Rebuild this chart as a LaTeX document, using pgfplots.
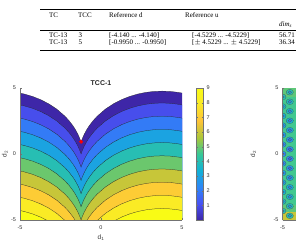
\documentclass[border=0pt]{standalone}
\usepackage{fontspec}
\setmainfont{Liberation Serif}
\newfontfamily\hv{Liberation Sans}
\usepackage{pgfplots}
\usepackage{pgfplotstable}
\pgfplotsset{compat=1.18}

% parula-like colormap and the fill colours of the contour bands (levels 0..9)
\pgfplotsset{colormap={parula}{rgb=(0.2422,0.1504,0.6603) rgb=(0.2810,0.3228,0.9579)
  rgb=(0.1786,0.5289,0.9682) rgb=(0.0689,0.6948,0.8394) rgb=(0.2161,0.7843,0.5923)
  rgb=(0.6720,0.7793,0.2227) rgb=(0.9970,0.7659,0.2199) rgb=(0.9805,0.9130,0.1549)
  rgb=(0.9769,0.9839,0.0805)}}
\definecolor{lv0}{rgb}{0.242,0.150,0.660}
\definecolor{lv1}{rgb}{0.277,0.304,0.925}
\definecolor{lv2}{rgb}{0.201,0.483,0.966}
\definecolor{lv3}{rgb}{0.105,0.640,0.882}
\definecolor{lv4}{rgb}{0.151,0.745,0.702}
\definecolor{lv5}{rgb}{0.419,0.782,0.428}
\definecolor{lv6}{rgb}{0.780,0.775,0.222}
\definecolor{lv7}{rgb}{0.993,0.799,0.206}
\definecolor{lv8}{rgb}{0.980,0.921,0.147}
\definecolor{lv9}{rgb}{0.977,0.984,0.081}
\definecolor{bgteal}{rgb}{0.256,0.784,0.560}
\definecolor{bggreen}{rgb}{0.370,0.782,0.470}
\definecolor{bgolive}{rgb}{0.780,0.775,0.222}

% contour lines of TCC-1: column ck is the level-k line (c0 = feasibility boundary)
\pgfplotstableread{
x c0 c1 c2 c3 c4 c5 c6 c7 c8 c9
-5.20 -9 -9 -9 -9 -9 -9 -9 -9 -9 -9
-5.20 4.617 3.717 2.717 1.717 0.717 -0.283 -1.283 -2.283 -3.283 -4.283
-5.00 4.617 3.717 2.717 1.717 0.717 -0.283 -1.283 -2.283 -3.283 -4.283
-4.73 4.543 3.643 2.643 1.643 0.643 -0.357 -1.357 -2.357 -3.357 -4.357
-4.23 4.362 3.462 2.462 1.462 0.462 -0.538 -1.538 -2.538 -3.538 -4.538
-3.73 4.120 3.220 2.220 1.220 0.220 -0.780 -1.780 -2.780 -3.780 -4.780
-3.23 3.805 2.905 1.905 0.905 -0.095 -1.095 -2.095 -3.095 -4.095 -5.095
-2.73 3.399 2.499 1.499 0.499 -0.501 -1.501 -2.501 -3.501 -4.501 -5.501
-2.23 2.868 1.968 0.968 -0.032 -1.032 -2.032 -3.032 -4.032 -5.032 -6.032
-1.98 2.536 1.636 0.636 -0.364 -1.364 -2.364 -3.364 -4.364 -5.364 -6.364
-1.73 2.136 1.236 0.236 -0.764 -1.764 -2.764 -3.764 -4.764 -5.764 -6.764
-1.58 1.849 0.949 -0.051 -1.051 -2.051 -3.051 -4.051 -5.051 -6.051 -7.051
-1.43 1.508 0.608 -0.392 -1.392 -2.392 -3.392 -4.392 -5.392 -6.392 -7.392
-1.33 1.234 0.334 -0.666 -1.666 -2.666 -3.666 -4.666 -5.666 -6.666 -7.666
-1.28 1.076 0.176 -0.824 -1.824 -2.824 -3.824 -4.824 -5.824 -6.824 -7.824
-1.23 0.896 -0.004 -1.004 -2.004 -3.004 -4.004 -5.004 -6.004 -7.004 -8.004
-1.18 1.076 0.176 -0.824 -1.824 -2.824 -3.824 -4.824 -5.824 -6.824 -7.824
-1.13 1.234 0.334 -0.666 -1.666 -2.666 -3.666 -4.666 -5.666 -6.666 -7.666
-1.03 1.508 0.608 -0.392 -1.392 -2.392 -3.392 -4.392 -5.392 -6.392 -7.392
-0.88 1.849 0.949 -0.051 -1.051 -2.051 -3.051 -4.051 -5.051 -6.051 -7.051
-0.73 2.136 1.236 0.236 -0.764 -1.764 -2.764 -3.764 -4.764 -5.764 -6.764
-0.48 2.536 1.636 0.636 -0.364 -1.364 -2.364 -3.364 -4.364 -5.364 -6.364
-0.23 2.868 1.968 0.968 -0.032 -1.032 -2.032 -3.032 -4.032 -5.032 -6.032
0.27 3.399 2.499 1.499 0.499 -0.501 -1.501 -2.501 -3.501 -4.501 -5.501
0.77 3.805 2.905 1.905 0.905 -0.095 -1.095 -2.095 -3.095 -4.095 -5.095
1.27 4.120 3.220 2.220 1.220 0.220 -0.780 -1.780 -2.780 -3.780 -4.780
1.77 4.362 3.462 2.462 1.462 0.462 -0.538 -1.538 -2.538 -3.538 -4.538
2.27 4.543 3.643 2.643 1.643 0.643 -0.357 -1.357 -2.357 -3.357 -4.357
2.77 4.668 3.768 2.768 1.768 0.768 -0.232 -1.232 -2.232 -3.232 -4.232
3.27 4.741 3.841 2.841 1.841 0.841 -0.159 -1.159 -2.159 -3.159 -4.159
3.77 4.765 3.865 2.865 1.865 0.865 -0.135 -1.135 -2.135 -3.135 -4.135
4.27 4.741 3.841 2.841 1.841 0.841 -0.159 -1.159 -2.159 -3.159 -4.159
4.77 4.668 3.768 2.768 1.768 0.768 -0.232 -1.232 -2.232 -3.232 -4.232
5.00 4.617 3.717 2.717 1.717 0.717 -0.283 -1.283 -2.283 -3.283 -4.283
5.20 4.617 3.717 2.717 1.717 0.717 -0.283 -1.283 -2.283 -3.283 -4.283
5.20 -9 -9 -9 -9 -9 -9 -9 -9 -9 -9
}\contours

\pgfplotsset{
  mlax/.style={scale only axis, width=162bp, height=132bp,
    xmin=-5, xmax=5, ymin=-5, ymax=5,
    xtick={-5,0,5}, ytick={-5,0,5}, xticklabels={-5,0,5}, yticklabels={-5,0,5},
    tick label style={font=\hv\fontsize{5.5}{6}\selectfont, text=black!80},
    xticklabel style={yshift=-2.5bp}, yticklabel style={xshift=-0.5bp},
    axis x line*=bottom, axis y line*=left,
    axis line style={-, black!55, line width=0.3bp},
    tick style={black!55, line width=0.3bp},
    tick align=inside, major tick length=1.6bp,
    axis on top, clip marker paths=true,
    label style={font=\hv\fontsize{6.5}{7}\selectfont, text=black!80}},
  band/.style={fill=#1, draw=black!85, line width=0.25bp}
}

\begin{document}
\begin{tikzpicture}[x=1bp,y=1bp]
\clip (0,0) rectangle (296,251);

% results table
\begin{scope}[every node/.style={anchor=base west, inner sep=0pt, font=\fontsize{7}{7.5}\selectfont}]
  \draw[line width=0.9bp] (40,242) -- (300,242);
  \draw[line width=0.5bp] (40,221) -- (300,221);
  \draw[line width=1.0bp] (40,200.5) -- (300,200.5);
  \node at (49,233.7) {TC};
  \node at (78,233.7) {TCC};
  \node at (109,233.7) {Reference d};
  \node at (185,233.7) {Reference u};
  \node at (279,224.5) {\textit{dim}\textsubscript{\textit{s}}};
  \node at (49,213.7) {TC-13};
  \node at (78.5,213.7) {3};
  \node at (109,213.7) {[-4.140 ... -4.140]};
  \node at (192,213.7) {[-4.5229 ... -4.5229]};
  \node at (279,213.7) {56.71};
  \node at (49,207) {TC-13};
  \node at (78.5,207) {5};
  \node at (109,207) {[-0.9950 ... -0.9950]};
  \node at (192,207) {[$\pm$ 4.5229 ... $\pm$ 4.5229]};
  \node at (279,207) {36.34};
\end{scope}

% TCC-1 filled contours
\begin{axis}[mlax, at={(20bp,31bp)}, anchor=south west,
    title={\hv\bfseries TCC-1},
    title style={font=\fontsize{7}{8}\selectfont, text=black!85, yshift=-7.5bp},
    xlabel={d\textsubscript{1}}, ylabel={d\textsubscript{2}},
    xlabel style={at={(axis description cs:0.5,-0.135)}, anchor=center},
    ylabel style={at={(axis description cs:-0.093,0.5)}, anchor=center},
    colormap name=parula, point meta min=0, point meta max=9, colorbar,
    colorbar style={at={(parent axis.north east)}, anchor=north west, xshift=6bp,
      width=7bp, ytick={1,2,...,9},
      yticklabel style={font=\hv\fontsize{5.5}{6}\selectfont, text=black!80, xshift=-0.5bp},
      /pgf/number format/assume math mode=true,
      tick align=inside, major tick length=1.5bp,
      axis line style={black!55, line width=0.3bp}, tick style={black!55, line width=0.3bp}}]
  \addplot[band=lv0] table[x=x, y=c0] {\contours};
  \addplot[band=lv1] table[x=x, y=c1] {\contours};
  \addplot[band=lv2] table[x=x, y=c2] {\contours};
  \addplot[band=lv3] table[x=x, y=c3] {\contours};
  \addplot[band=lv4] table[x=x, y=c4] {\contours};
  \addplot[band=lv5] table[x=x, y=c5] {\contours};
  \addplot[band=lv6] table[x=x, y=c6] {\contours};
  \addplot[band=lv7] table[x=x, y=c7] {\contours};
  \addplot[band=lv8] table[x=x, y=c8] {\contours};
  \addplot[band=lv9] table[x=x, y=c9] {\contours};
  \addplot[only marks, mark=*, mark size=1.8bp, color=red, mark options={draw=red, fill=red}]
    coordinates {(-1.23,0.93)};
\end{axis}

% neighbouring panel (cell pattern)
\begin{axis}[mlax, at={(282.5bp,31bp)}, anchor=south west,
    ylabel={d\textsubscript{2}},
    ylabel style={at={(axis description cs:-0.18,0.5)}, anchor=center},
    colormap name=parula, point meta min=0, point meta max=9]
  \addplot[draw=none, fill=bgteal] coordinates {(-5,-5) (5,-5) (5,5) (-5,5)};
  \addplot[draw=none, fill=bggreen] coordinates {(-5,4.3) (5,4.3) (5,5) (-5,5)};
  \addplot[draw=none, fill=bggreen] coordinates {(-5,-5) (5,-5) (5,-3.9) (-5,-3.9)};
  \addplot[draw=none, fill=bgolive] coordinates {(-5,-5) (5,-5) (5,-4.4) (-5,-4.4)};
  \addplot[scatter, only marks, mark=*, mark size=3.6bp, mark options={yscale=0.8},
    point meta=explicit,
    scatter/use mapped color={draw=black!70, fill=mapped color, line width=0.2bp}]
    coordinates {
    (-4.55,-4.68) [4.04] (-4.55,-3.96) [3.79] (-4.55,-3.24) [3.53] (-4.55,-2.52) [3.28]
    (-4.55,-1.80) [3.03] (-4.55,-1.08) [2.78] (-4.55,-0.36) [2.53] (-4.55,0.36) [2.53]
    (-4.55,1.08) [2.78] (-4.55,1.80) [3.03] (-4.55,2.52) [3.28] (-4.55,3.24) [3.53]
    (-4.55,3.96) [3.79] (-4.55,4.68) [4.04]
    (-5,-4.32) [3.91] (-5,-3.60) [3.66] (-5,-2.88) [3.41] (-5,-2.16) [3.16]
    (-5,-1.44) [2.90] (-5,-0.72) [2.65] (-5,0) [2.40] (-5,0.72) [2.65]
    (-5,1.44) [2.90] (-5,2.16) [3.16] (-5,2.88) [3.41] (-5,3.60) [3.66] (-5,4.32) [3.91]};
  \addplot[scatter, only marks, mark=*, mark size=1.8bp, mark options={yscale=0.8},
    point meta=explicit,
    scatter/use mapped color={draw=black!70, fill=mapped color, line width=0.2bp}]
    coordinates {
    (-4.55,-4.68) [2.74] (-4.55,-3.96) [2.49] (-4.55,-3.24) [2.23] (-4.55,-2.52) [1.98]
    (-4.55,-1.80) [1.73] (-4.55,-1.08) [1.48] (-4.55,-0.36) [1.23] (-4.55,0.36) [1.23]
    (-4.55,1.08) [1.48] (-4.55,1.80) [1.73] (-4.55,2.52) [1.98] (-4.55,3.24) [2.23]
    (-4.55,3.96) [2.49] (-4.55,4.68) [2.74]
    (-5,-4.32) [2.61] (-5,-3.60) [2.36] (-5,-2.88) [2.11] (-5,-2.16) [1.86]
    (-5,-1.44) [1.60] (-5,-0.72) [1.35] (-5,0) [1.10] (-5,0.72) [1.35]
    (-5,1.44) [1.60] (-5,2.16) [1.86] (-5,2.88) [2.11] (-5,3.60) [2.36] (-5,4.32) [2.61]};
\end{axis}
\end{tikzpicture}
\end{document}
